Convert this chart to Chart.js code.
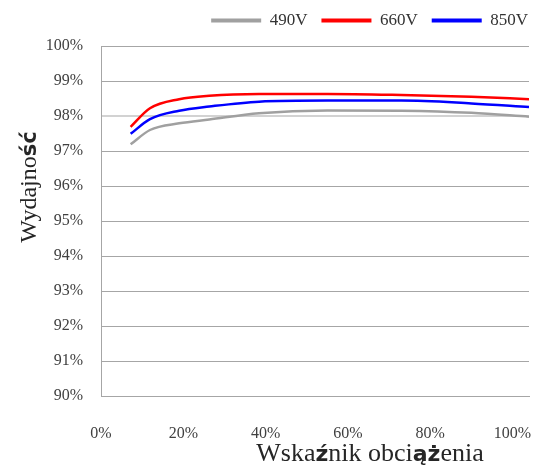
<!DOCTYPE html>
<html>
<head>
<meta charset="utf-8">
<script src="https://cdn.jsdelivr.net/npm/chart.js@4"></script>
<style>
  html, body { margin: 0; padding: 0; background: #fff; }
  #wrap { width: 542px; height: 468px; }
</style>
</head>
<body>
<div id="wrap"><canvas id="c" width="542" height="468"></canvas></div>
<script>
// Load factor (%) at which efficiency was measured
const loadFactor = [7.2, 11.9, 19, 26.3, 38.4, 55, 73, 90, 104];

// Efficiency (%) for each DC voltage
const eff490 = [97.19, 97.60, 97.79, 97.90, 98.08, 98.16, 98.15, 98.09, 97.98];
const eff660 = [97.69, 98.22, 98.48, 98.58, 98.63, 98.63, 98.60, 98.55, 98.48];
const eff850 = [97.49, 97.91, 98.15, 98.27, 98.41, 98.44, 98.44, 98.36, 98.26];

const seriesNames = ['490V', '660V', '850V'];
const xTicks = [0, 20, 40, 60, 80, 100];
const yTicks = [90, 91, 92, 93, 94, 95, 96, 97, 98, 99, 100];

const colors = ['#a0a0a0', '#ff0000', '#0000ff'];
const SERIF = '"Liberation Serif", "DejaVu Serif", serif';
const SANS = '"DejaVu Sans", sans-serif';

function pts(ys) { return loadFactor.map((x, i) => ({ x, y: ys[i] })); }

// Draws a line of text made of runs in different fonts, centred on (cx, cy)
function drawRuns(ctx, runs, cx, cy) {
  let total = 0;
  runs.forEach(r => { ctx.font = r.font; r.w = ctx.measureText(r.t).width; total += r.w; });
  let x = cx - total / 2;
  ctx.textBaseline = 'alphabetic';
  ctx.textAlign = 'left';
  runs.forEach(r => { ctx.font = r.font; ctx.fillText(r.t, x, cy); x += r.w; });
}

const titleSerif = '26px ' + SERIF;
const titleSans = 'bold 22px ' + SANS;

const axisTitles = {
  id: 'axisTitles',
  afterLayout(chart) {
    // lift the legend row closer to the top edge
    if (chart.legend) { chart.legend.top -= 7; chart.legend.bottom -= 7; }
  },
  afterDraw(chart) {
    const ctx = chart.ctx;
    ctx.save();
    ctx.fillStyle = '#262626';
    drawRuns(ctx, [
      { t: 'Wska', font: titleSerif },
      { t: 'ź', font: titleSans },
      { t: 'nik obci', font: titleSerif },
      { t: 'ąż', font: titleSans },
      { t: 'enia', font: titleSerif }
    ], 370, 461);
    ctx.translate(36, 187);
    ctx.rotate(-Math.PI / 2);
    drawRuns(ctx, [
      { t: 'Wydajno', font: '24px ' + SERIF },
      { t: 'ść', font: 'bold 21px ' + SANS }
    ], 0, 0);
    ctx.restore();
  }
};

new Chart(document.getElementById('c'), {
  type: 'line',
  data: {
    datasets: [eff490, eff660, eff850].map((d, i) => ({
      label: seriesNames[i],
      data: pts(d),
      borderColor: colors[i],
      backgroundColor: colors[i],
      borderWidth: 2.5,
      pointRadius: 0,
      cubicInterpolationMode: 'monotone',
      fill: false
    }))
  },
  options: {
    responsive: false,
    animation: false,
    layout: { padding: { top: 0, right: 0, left: 0, bottom: 0 } },
    plugins: {
      tooltip: { enabled: false },
      legend: {
        position: 'top',
        align: 'end',
        labels: {
          boxWidth: 50,
          boxHeight: 4,
          padding: 14,
          color: '#333',
          font: { family: SERIF, size: 17 },
          generateLabels(chart) {
            return chart.data.datasets.map((ds, i) => ({
              text: ds.label,
              fillStyle: ds.borderColor,
              strokeStyle: ds.borderColor,
              lineWidth: 0,
              datasetIndex: i,
              fontColor: '#333'
            }));
          }
        }
      }
    },
    scales: {
      x: {
        type: 'linear',
        min: 0,
        max: 104,
        afterBuildTicks(s) { s.ticks = xTicks.map(v => ({ value: v })); },
        afterFit(s) { s.height = 72; s.paddingRight = 13; },
        grid: { display: false, drawTicks: false },
        border: { display: true, color: '#a6a6a6', width: 1 },
        ticks: {
          padding: 28,
          color: '#404040',
          font: { family: SERIF, size: 16 },
          maxRotation: 0,
          callback: v => v + '%'
        }
      },
      y: {
        min: 90,
        max: 100,
        afterBuildTicks(s) { s.ticks = yTicks.map(v => ({ value: v })); },
        afterFit(s) { s.width = 101; s.paddingTop = 46; },
        grid: {
          drawTicks: false,
          color: c => (c.tick && c.tick.value === 98) ? '#d2d2d2' : '#a6a6a6',
          lineWidth: c => (c.tick && c.tick.value === 98) ? 2 : 1
        },
        border: { display: true, color: '#a6a6a6', width: 1 },
        ticks: {
          padding: 18,
          color: '#404040',
          font: { family: SERIF, size: 16 },
          callback: v => v + '%'
        }
      }
    }
  },
  plugins: [axisTitles]
});
</script>
</body>
</html>
